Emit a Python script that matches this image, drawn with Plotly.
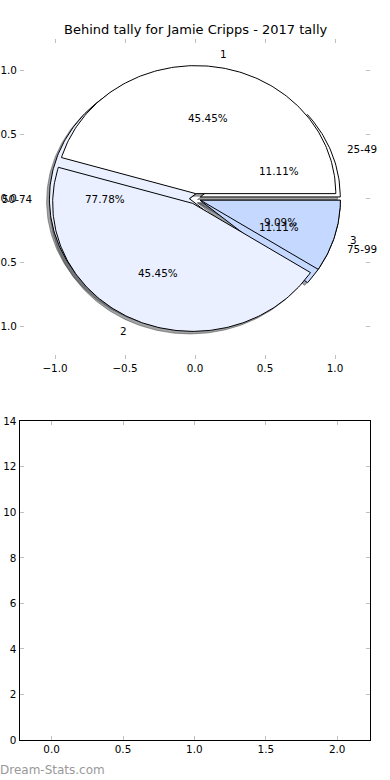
import numpy as np
import plotly.graph_objects as go

# ---------------- data ----------------
chart_title = "Behind tally for Jamie Cripps - 2017 tally"
pie_a_labels = ["1", "2", "3"]
pie_a_values = [5, 5, 1]
pie_b_labels = ["25-49", "50-74", "75-99"]
pie_b_values = [1, 7, 1]
slice_colors = ["#FFFFFF", "#EAF0FF", "#C5D8FF"]
pie_ticks = [-1.0, -0.5, 0.0, 0.5, 1.0]
bottom_x_ticks = [0.0, 0.5, 1.0, 1.5, 2.0]
bottom_y_ticks = [0, 2, 4, 6, 8, 10, 12, 14]
watermark = "Dream-Stats.com"

# ---------------- style ----------------
EXPLODE = 0.04
LABEL_DIST = 1.1
PCT_DIST = 0.6
SHADOW = -0.02
FONT = "DejaVu Sans"
FS = 10.4
TICKC = "#c0c0c0"


def fmt_tick(v, nd):
    s = f"{abs(v):.{nd}f}"
    return ("\u2212" + s) if v < 0 else s


def pie_geometry(values):
    total = float(sum(values))
    out = []
    t1 = 0.0
    for v in values:
        frac = v / total
        t2 = t1 + frac
        thm = np.pi * (t1 + t2)
        cx, cy = EXPLODE * np.cos(thm), EXPLODE * np.sin(thm)
        n = max(int(360 * frac), 6)
        th = np.linspace(2 * np.pi * t1, 2 * np.pi * t2, n)
        xs = np.concatenate([[cx], cx + np.cos(th), [cx]])
        ys = np.concatenate([[cy], cy + np.sin(th), [cy]])
        out.append(dict(frac=frac, thm=thm, cx=cx, cy=cy, xs=xs, ys=ys))
        t1 = t2
    return out


def hex_rgb(h):
    h = h.lstrip("#")
    return [int(h[i:i + 2], 16) for i in (0, 2, 4)]


geo_a = pie_geometry(pie_a_values)
geo_b = pie_geometry(pie_b_values)

fig = go.Figure()

# shadows (drawn under all wedges), pie B first then pie A
for geo in (geo_b, geo_a):
    for w, col in zip(geo, slice_colors):
        r, g, b = [0.3 * c for c in hex_rgb(col)]
        sc = f"rgba({r:.0f},{g:.0f},{b:.0f},0.5)"
        fig.add_trace(go.Scatter(
            x=w["xs"] + SHADOW, y=w["ys"] + SHADOW, mode="lines", fill="toself",
            fillcolor=sc, line=dict(color=sc, width=1), hoverinfo="skip",
            xaxis="x", yaxis="y"))

# wedges
for geo, labels in ((geo_b, pie_b_labels), (geo_a, pie_a_labels)):
    for w, col, lab in zip(geo, slice_colors, labels):
        fig.add_trace(go.Scatter(
            x=w["xs"], y=w["ys"], mode="lines", fill="toself",
            fillcolor=col, line=dict(color="black", width=1),
            name=lab, hoverinfo="skip", xaxis="x", yaxis="y"))

annotations = []
for geo, labels in ((geo_b, pie_b_labels), (geo_a, pie_a_labels)):
    for w, lab in zip(geo, labels):
        lx = w["cx"] + LABEL_DIST * np.cos(w["thm"])
        ly = w["cy"] + LABEL_DIST * np.sin(w["thm"])
        annotations.append(dict(
            x=lx, y=ly, xref="x", yref="y", text=lab, showarrow=False,
            xanchor="left" if lx > 0 else "right", yanchor="middle",
            font=dict(family=FONT, size=FS, color="black")))
        px = w["cx"] + PCT_DIST * np.cos(w["thm"])
        py = w["cy"] + PCT_DIST * np.sin(w["thm"])
        annotations.append(dict(
            x=px, y=py, xref="x", yref="y", text=f"{100 * w['frac']:.2f}%",
            showarrow=False, xanchor="center", yanchor="middle",
            font=dict(family=FONT, size=FS, color="black")))

annotations.append(dict(
    x=0.5, y=1 - 30 / 780, xref="paper", yref="paper", text=chart_title,
    showarrow=False, xanchor="center", yanchor="middle",
    font=dict(family=FONT, size=13, color="black")))
annotations.append(dict(
    x=0, y=10 / 780, xref="paper", yref="paper", text=watermark,
    showarrow=False, xanchor="left", yanchor="middle", xshift=-2,
    font=dict(family=FONT, size=12, color="#999999")))

# empty lower axes
fig.add_trace(go.Scatter(x=[], y=[], xaxis="x2", yaxis="y2", hoverinfo="skip"))

tickfont = dict(family=FONT, size=FS, color="black")
common = dict(ticks="inside", ticklen=4, tickwidth=1, tickcolor=TICKC,
              showgrid=False, zeroline=False, mirror="ticks",
              tickfont=tickfont, fixedrange=True, automargin=False)

fig.update_layout(
    width=390, height=780, margin=dict(l=0, r=0, t=0, b=0),
    paper_bgcolor="white", plot_bgcolor="white", showlegend=False,
    annotations=annotations,
    xaxis=dict(domain=[20 / 390, 370 / 390], range=[-1.25, 1.25], anchor="y",
               tickvals=pie_ticks, ticktext=[fmt_tick(v, 1) for v in pie_ticks],
               showline=True, linecolor="rgba(0,0,0,0)", **common),
    yaxis=dict(domain=[(780 - 358.7) / 780, (780 - 38.7) / 780],
               range=[-1.25, 1.25], anchor="x",
               tickvals=pie_ticks, ticktext=[fmt_tick(v, 1) for v in pie_ticks],
               showline=True, linecolor="rgba(0,0,0,0)", **common),
    xaxis2=dict(domain=[19.5 / 390, 370 / 390], range=[-0.225, 2.23], anchor="y2",
                tickvals=bottom_x_ticks,
                ticktext=[fmt_tick(v, 1) for v in bottom_x_ticks],
                showline=True, linecolor="black", linewidth=1, **common),
    yaxis2=dict(domain=[40 / 780, (780 - 421.3) / 780], range=[0, 14], anchor="x2",
                tickvals=bottom_y_ticks,
                ticktext=[fmt_tick(v, 0) for v in bottom_y_ticks],
                showline=True, linecolor="black", linewidth=1, **common),
)

fig.write_html("out.html",
               config={"displayModeBar": False},
               post_script="document.body.style.margin='0';"
                           "document.body.style.overflow='hidden';")
